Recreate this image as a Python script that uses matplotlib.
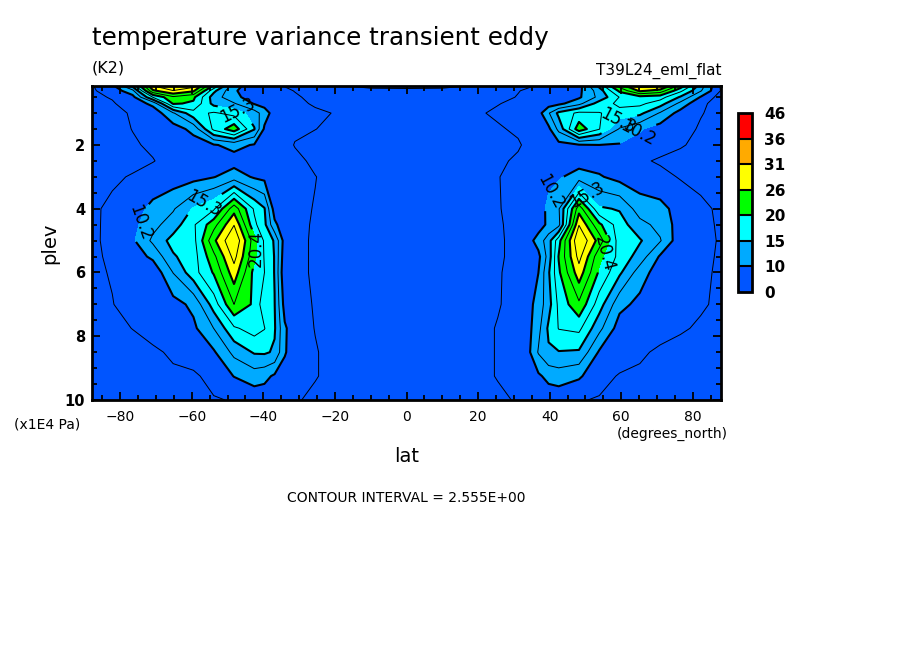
import numpy as np
import matplotlib
matplotlib.use("Agg")
import matplotlib.pyplot as plt
from matplotlib.ticker import MultipleLocator

# grid of the field: latitude (degrees_north) and pressure (x1E4 Pa)
lat = [-87.86, -82.19, -76.52, -70.86, -65.19, -59.52, -53.85, -48.18,
       -42.52, -39.69, -36.85, -34.02, -31.18, -25.51, -19.84, -10.0,
       0.0,
       10.0, 19.84, 25.51, 31.18, 34.02, 36.85, 39.69, 42.52,
       48.18, 53.85, 59.52, 65.19, 70.86, 76.52, 82.19, 87.86]

plev = [0.15, 0.3, 0.5, 0.7, 1.0, 1.5, 2.0, 2.5, 3.0,
        4.0, 4.5, 5.0, 5.5, 6.0, 7.0, 7.75, 8.5, 9.25, 10.0]

# temperature variance (K2), one row per plev, south -> north
tvar = [
    # 0.15
    [7.5, 9.5, 16.0, 28.0, 30.3, 29.0, 20.0, 11.0, 9.0, 8.6, 8.0, 7.6, 7.3, 7.2, 7.3, 8.4, 8.6,
     8.4, 7.3, 7.2, 7.3, 7.5, 7.9, 8.1, 8.3, 9.2, 16.0, 24.0, 29.0, 28.5, 22.0, 14.0, 7.3],
    # 0.3
    [7.4, 8.6, 12.0, 25.0, 28.0, 26.0, 16.0, 10.5, 8.8, 8.5, 8.2, 8.0, 7.6, 7.2, 7.0, 6.8, 6.8,
     6.8, 7.0, 7.3, 7.6, 7.9, 8.1, 8.3, 8.6, 9.6, 14.0, 21.0, 26.0, 24.5, 18.5, 13.0, 7.5],
    # 0.5
    [7.3, 7.8, 9.3, 18.0, 22.5, 21.0, 14.0, 11.0, 8.8, 8.6, 8.4, 8.2, 7.9, 7.2, 6.9, 6.7, 6.6,
     6.7, 6.9, 7.2, 7.75, 8.2, 8.5, 8.8, 9.0, 9.8, 13.5, 18.0, 19.5, 19.0, 15.0, 10.0, 6.5],
    # 0.7
    [7.2, 7.5, 8.5, 11.0, 20.8, 20.0, 14.5, 13.0, 10.0, 9.2, 8.8, 8.5, 8.0, 7.5, 7.2, 6.8, 6.6,
     6.8, 7.2, 7.6, 8.0, 8.4, 8.8, 9.0, 9.5, 12.0, 16.5, 18.5, 18.5, 16.5, 12.0, 8.0, 7.0],
    # 1.0
    [7.0, 7.3, 7.8, 8.5, 12.5, 17.0, 18.2, 17.0, 14.0, 11.5, 9.0, 8.3, 8.1, 7.9, 7.6, 6.9, 6.6,
     6.9, 7.5, 7.9, 8.1, 8.4, 9.2, 12.5, 16.0, 18.5, 18.0, 17.0, 16.0, 12.5, 9.2, 7.75, 7.2],
    # 1.5
    [6.9, 7.2, 7.7, 8.4, 9.0, 11.0, 18.5, 22.0, 15.5, 9.8, 8.8, 8.2, 7.9, 7.7, 7.2, 6.6, 6.4,
     6.6, 7.1, 7.5, 7.9, 8.3, 8.8, 9.6, 13.5, 22.0, 18.0, 12.5, 10.5, 9.0, 8.2, 7.5, 7.2],
    # 2.0
    [7.0, 7.2, 7.5, 7.9, 8.4, 9.0, 10.0, 11.0, 10.0, 9.0, 8.5, 8.1, 7.6, 7.0, 6.6, 6.3, 6.2,
     6.3, 6.6, 7.0, 7.5, 8.0, 8.5, 9.0, 9.4, 10.0, 10.2, 10.0, 9.2, 8.5, 7.8, 7.3, 7.0],
    # 2.5
    [6.8, 7.0, 7.2, 7.6, 8.2, 8.6, 9.0, 9.2, 8.9, 8.7, 8.5, 8.3, 8.0, 7.4, 7.0, 6.6, 6.4,
     6.6, 7.0, 7.4, 7.9, 8.3, 8.5, 8.7, 8.9, 9.2, 9.0, 8.6, 8.0, 7.4, 7.2, 7.0, 6.8],
    # 3.0
    [7.0, 7.4, 7.8, 8.3, 8.8, 9.3, 10.1, 11.5, 9.9, 9.5, 9.0, 8.6, 8.2, 7.7, 7.2, 6.6, 6.4,
     6.6, 7.2, 7.6, 8.2, 8.6, 9.0, 9.4, 9.9, 11.3, 10.5, 9.3, 8.8, 8.3, 7.5, 7.2, 7.0],
    # 4.0
    [7.4, 8.0, 9.0, 11.0, 12.5, 15.6, 17.5, 24.5, 17.5, 15.5, 9.0, 8.3, 8.0, 7.6, 6.8, 6.4, 6.2,
     6.4, 6.8, 7.6, 8.0, 8.3, 8.7, 11.0, 12.5, 24.5, 15.7, 15.1, 11.5, 11.0, 9.2, 8.0, 7.4],
    # 4.5
    [7.35, 8.1, 9.4, 12.0, 14.0, 17.5, 22.0, 28.0, 18.5, 16.0, 10.8, 8.6, 8.1, 7.5, 6.7, 6.2, 6.1,
     6.2, 6.7, 7.5, 8.1, 8.5, 9.0, 10.8, 12.0, 28.0, 21.0, 16.5, 13.6, 12.0, 9.0, 8.1, 7.45],
    # 5.0
    [7.3, 8.2, 9.8, 13.3, 16.3, 17.0, 25.0, 30.6, 21.5, 17.5, 15.0, 9.0, 8.2, 7.4, 6.5, 6.0, 6.0,
     6.0, 6.5, 7.4, 8.2, 9.2, 11.3, 14.2, 19.5, 30.6, 24.5, 16.5, 15.6, 13.0, 8.5, 8.2, 7.5],
    # 5.5
    [7.3, 8.0, 8.8, 10.8, 15.0, 16.8, 22.3, 29.0, 21.0, 17.7, 15.2, 8.5, 8.2, 7.4, 6.7, 6.2, 6.1,
     6.2, 6.7, 7.4, 8.2, 8.9, 9.53, 13.85, 20.6, 29.0, 21.2, 17.1, 14.2, 9.9, 8.4, 8.1, 7.45],
    # 6.0
    [7.3, 7.8, 8.0, 8.3, 12.85, 16.85, 20.7, 27.0, 19.6, 17.9, 15.2, 8.0, 8.2, 7.4, 6.9, 6.4, 6.2,
     6.4, 6.9, 7.5, 8.3, 8.8, 10.2, 15.0, 20.0, 27.0, 20.0, 15.8, 11.5, 8.8, 8.3, 8.0, 7.4],
    # 7.0
    [7.1, 7.6, 8.4, 9.0, 9.3, 10.8, 16.5, 23.0, 19.9, 16.2, 15.4, 9.2, 8.5, 7.5, 7.0, 6.4, 6.2,
     6.4, 7.0, 7.5, 8.5, 9.3, 11.3, 14.3, 18.5, 22.5, 16.5, 11.0, 9.5, 9.0, 8.4, 7.9, 7.3],
    # 7.75
    [6.8, 7.2, 7.7, 8.5, 9.0, 9.7, 12.8, 17.5, 19.0, 18.0, 15.6, 10.6, 8.7, 7.6, 7.0, 6.4, 6.1,
     6.4, 7.0, 7.8, 8.6, 9.4, 12.0, 15.8, 18.0, 18.5, 13.5, 9.0, 8.8, 8.5, 7.9, 7.4, 6.9],
    # 8.5
    [6.5, 6.8, 7.0, 7.3, 8.0, 8.8, 9.9, 13.5, 15.6, 15.7, 15.0, 10.5, 8.6, 7.8, 7.0, 6.3, 6.0,
     6.3, 7.0, 7.8, 8.6, 9.6, 13.0, 15.0, 15.2, 15.0, 9.9, 8.8, 8.0, 7.3, 7.0, 6.8, 6.5],
    # 9.25
    [6.3, 6.5, 6.8, 7.0, 7.3, 7.3, 8.4, 10.3, 11.5, 11.0, 9.8, 9.0, 8.5, 7.8, 7.0, 6.2, 6.0,
     6.2, 7.0, 7.8, 8.5, 9.0, 9.8, 11.0, 11.5, 10.6, 8.4, 7.5, 7.3, 7.0, 6.8, 6.5, 6.3],
    # 10.0
    [6.0, 6.2, 6.5, 6.8, 7.0, 7.2, 7.5, 7.8, 8.5, 8.6, 8.5, 8.3, 7.9, 7.2, 6.5, 6.0, 5.8,
     6.0, 6.5, 7.2, 7.9, 8.3, 8.5, 8.6, 8.5, 7.8, 7.5, 7.2, 7.0, 6.8, 6.5, 6.2, 6.0],
]

interval = 2.555
fill_levels = [0, 10.22, 15.33, 20.44, 25.55, 30.66, 35.77, 45.99]
fill_colors = ["#0055ff", "#00aaff", "#00ffff", "#00ff00",
               "#ffff00", "#ffaa00", "#ff0000"]
bar_labels = ["0", "10", "15", "20", "26", "31", "36", "46"]

# where the contour labels sit (lat, plev)
label_pos = [(-74.0, 4.45), (-57.3, 3.65), (-42.4, 5.25), (-47.4, 1.0),
             (40.5, 3.5), (50.8, 3.5), (55.4, 5.4), (59.5, 1.3), (64.5, 1.6)]

z = np.array(tvar)

fig = plt.figure(figsize=(9.04, 6.54), dpi=100)
ax = fig.add_axes([92 / 904, 1 - 400 / 654, 629 / 904, 314 / 654])

cf = ax.contourf(lat, plev, z, levels=fill_levels, colors=fill_colors)
thin = [interval * k for k in (1, 2, 3, 5, 7, 9, 11, 13, 15)]
thick = [interval * k for k in (4, 6, 8, 10, 12, 14)]
ax.contour(lat, plev, z, levels=thin, colors="k", linewidths=0.7)
cs = ax.contour(lat, plev, z, levels=thick, colors="k", linewidths=1.5)
ax.clabel(cs, manual=label_pos, inline=True, inline_spacing=2,
          fmt=lambda v: f"{v:.1f}", fontsize=12)

ax.set_xlim(-87.86, 87.86)
ax.set_ylim(10, 0.15)
ax.set_xticks(range(-80, 81, 20))
ax.set_yticks([2, 4, 6, 8, 10])
ax.xaxis.set_minor_locator(MultipleLocator(5))
ax.yaxis.set_minor_locator(MultipleLocator(0.5))
ax.tick_params(which="both", direction="in", top=True, right=True, width=1.3)
ax.tick_params(which="major", length=6)
ax.tick_params(which="minor", length=3.5)
ax.tick_params(axis="x", labelsize=10, pad=7)
ax.tick_params(axis="y", labelsize=10.5, pad=5)
for t in ax.get_yticklabels():
    t.set_fontweight("bold")
for s in ax.spines.values():
    s.set_linewidth(2)

# colour key
cax = fig.add_axes([738 / 904, 1 - 292 / 654, 14 / 904, 179 / 654])
cb = fig.colorbar(cf, cax=cax, spacing="uniform", ticks=fill_levels,
                  drawedges=True)
cb.set_ticklabels(bar_labels)
cax.tick_params(length=0, pad=9, labelsize=11)
for t in cax.get_yticklabels():
    t.set_fontweight("bold")
cb.outline.set_linewidth(2)
cb.dividers.set_linewidth(1.5)

fig.text(92 / 904, 1 - 45 / 654, "temperature variance transient eddy",
         fontsize=17.7, ha="left", va="baseline")
fig.text(92 / 904, 1 - 72.5 / 654, "(K2)", fontsize=11.5, ha="left", va="baseline")
fig.text(721 / 904, 1 - 75 / 654, "T39L24_eml_flat", fontsize=11,
         ha="right", va="baseline")
fig.text(50 / 904, 1 - 243 / 654, "plev", fontsize=14, rotation=90,
         ha="center", va="center")
fig.text(14 / 904, 1 - 424 / 654, "(x1E4 Pa)", fontsize=10, ha="left", va="center")
fig.text(617 / 904, 1 - 434 / 654, "(degrees_north)", fontsize=10,
         ha="left", va="center")
fig.text(407 / 904, 1 - 457 / 654, "lat", fontsize=14, ha="center", va="center")
fig.text(406 / 904, 1 - 497.5 / 654, "CONTOUR INTERVAL = 2.555E+00",
         fontsize=10, ha="center", va="center")

fig.savefig("out.png", dpi=100)
